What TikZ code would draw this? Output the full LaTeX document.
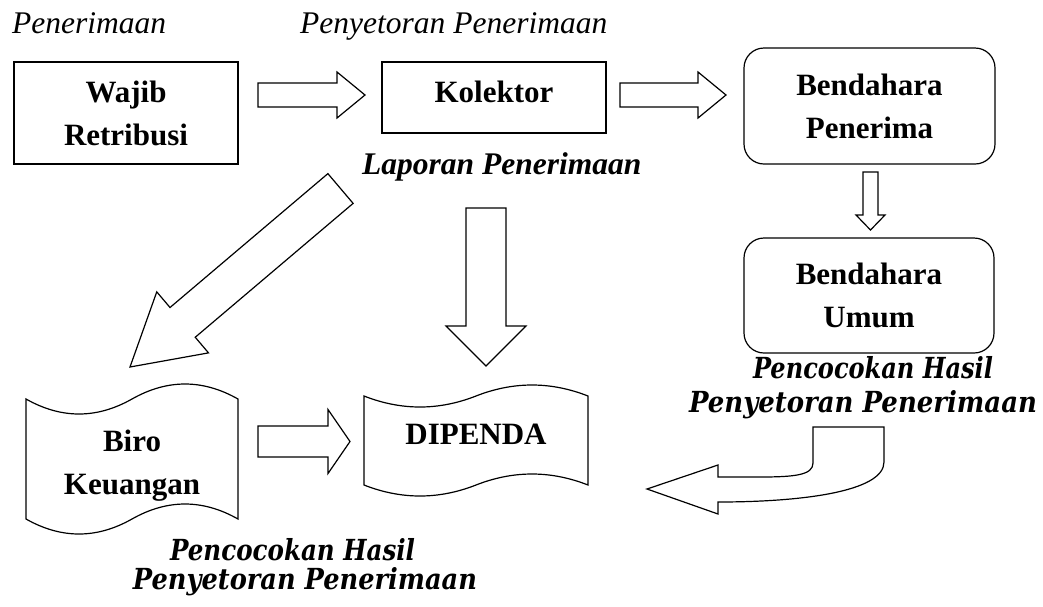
\documentclass[tikz,border=0pt]{standalone}
\usepackage{fontspec}
\usepackage{graphicx}
\setmainfont{Liberation Serif}
\newfontfamily\slabfont{DejaVu Serif}
\usetikzlibrary{calc}

\tikzset{
  blk/.style={draw=black, line width=1.2pt, fill=white, line join=miter},
  box/.style={draw=black, line width=1.2pt, inner sep=0pt, align=center,
    font=\fontsize{31}{43}\selectfont\bfseries},
  rbox/.style={box, rounded corners=20pt},
  lbl/.style={inner sep=0pt, align=center, font=\fontsize{31}{43}\selectfont\bfseries},
  note/.style={inner sep=0pt, anchor=base west, font=\fontsize{31.5}{38}\selectfont\itshape},
  notebi/.style={inner sep=0pt, anchor=base west, font=\fontsize{31.5}{38}\selectfont\bfseries\itshape},
  cnote/.style={inner sep=0pt, anchor=base, font=\fontsize{29}{34}\selectfont\slabfont\bfseries\itshape},
}

% block arrow: #1 tail coordinate, #2 tip coordinate, #3 shaft half width, #4 head half width, #5 head length
\newcommand{\barrow}[5]{%
  \path let \p1=(#1), \p2=(#2) in \pgfextra{%
    \pgfmathsetmacro\tmpa{atan2(\y2-\y1,\x2-\x1)}\xdef\baang{\tmpa}%
    \pgfmathsetmacro\tmpb{veclen(\x2-\x1,\y2-\y1)}\xdef\balen{\tmpb}%
    \pgfmathsetmacro\tmpc{\x1}\xdef\bax{\tmpc}%
    \pgfmathsetmacro\tmpd{\y1}\xdef\bay{\tmpd}};
  \pgfmathsetmacro\bahb{\balen-#5}%
  \begin{scope}[shift={(\bax pt,\bay pt)},rotate=\baang]
    \draw[blk] (0pt,-#3pt) -- (\bahb pt,-#3pt) -- (\bahb pt,-#4pt) -- (\balen pt,0pt)
      -- (\bahb pt,#4pt) -- (\bahb pt,#3pt) -- (0pt,#3pt) -- cycle;
  \end{scope}}

% tape (punched tape) shape: #1,#2 centre, #3 half width, #4 half height, #5 wave amplitude
\newcommand{\tape}[5]{%
  \begin{scope}[shift={(#1,#2)}]
    \draw[blk] (-#3,-#4)
      .. controls ({-#3*2/3},{-#4+#5*4/3}) and ({-#3/3},{-#4+#5*4/3}) .. (0,-#4)
      .. controls ({#3/3},{-#4-#5*4/3}) and ({#3*2/3},{-#4-#5*4/3}) .. (#3,-#4)
      -- (#3,#4)
      .. controls ({#3*2/3},{#4-#5*4/3}) and ({#3/3},{#4-#5*4/3}) .. (0,#4)
      .. controls ({-#3/3},{#4+#5*4/3}) and ({-#3*2/3},{#4+#5*4/3}) .. (-#3,#4)
      -- cycle;
  \end{scope}}

\begin{document}
\begin{tikzpicture}[x=1pt,y=-1pt]
\fill[white] (0,0) rectangle (1043,606);
\useasboundingbox (0,0) rectangle (1043,606);

% boxes
\node[box, minimum width=224pt, minimum height=102pt] (wajib) at (126,113) {Wajib\\Retribusi};
\node[box, minimum width=224pt, minimum height=71pt, text height=21pt, text depth=12pt] (kolektor) at (494,97.5) {Kolektor};
\node[rbox, minimum width=251pt, minimum height=116pt] (bpen) at (869.5,106) {Bendahara\\Penerima};
\node[rbox, minimum width=250pt, minimum height=115pt] (bumum) at (869,295.5) {Bendahara\\Umum};

% tape shapes
\tape{132}{459}{106}{60}{15}
\node[lbl] (biro) at (132,466) {Biro\\Keuangan};
\tape{476}{440.5}{112}{44.5}{11}
\node[lbl] (dipenda) at (476,434.5) {DIPENDA};

% block arrows
\coordinate (a1s) at (258,95);   \coordinate (a1e) at (365,95);
\coordinate (a2s) at (620,95);   \coordinate (a2e) at (726,95);
\coordinate (a3s) at (870.5,172); \coordinate (a3e) at (870.5,230);
\coordinate (a4s) at (486,208);  \coordinate (a4e) at (486,366);
\coordinate (a5s) at (340.5,188.5); \coordinate (a5e) at (130,367);
\coordinate (a6s) at (258,441.5); \coordinate (a6e) at (350,441.5);
\barrow{a1s}{a1e}{12}{23}{28}
\barrow{a2s}{a2e}{12}{23}{28}
\barrow{a3s}{a3e}{7.5}{14.5}{15}
\barrow{a4s}{a4e}{20}{40}{40}
\barrow{a5s}{a5e}{19.5}{40}{69}
\barrow{a6s}{a6e}{15.5}{32}{22}

% curved (U-turn) block arrow
\coordinate (ua) at (884,427);
\coordinate (ut) at (647,489);
\draw[blk] (ua) -- (813,427) -- (813,463) .. controls (813,475) and (795,477) .. (760,477)
  -- (718,477) -- (718,465) -- (ut) -- (718,514) -- (718,502)
  .. controls (800,502) and (884,492) .. (884,462) -- cycle;

% labels
\node[note] (t1) at (12,33) {Penerimaan};
\node[note] (t2) at (300,33) {Penyetoran Penerimaan};
\node[notebi] (t3) at (362,174) {Laporan Penerimaan};
\node[cnote] (t4) at (873,378) {\resizebox{240pt}{\height}{Pencocokan Hasil}};
\node[cnote] (t5) at (863,412) {\resizebox{348pt}{\height}{Penyetoran Penerimaan}};
\node[cnote] (t6) at (292.5,560) {\resizebox{245pt}{\height}{Pencocokan Hasil}};
\node[cnote] (t7) at (305,589) {\resizebox{344pt}{\height}{Penyetoran Penerimaan}};
\end{tikzpicture}
\end{document}
